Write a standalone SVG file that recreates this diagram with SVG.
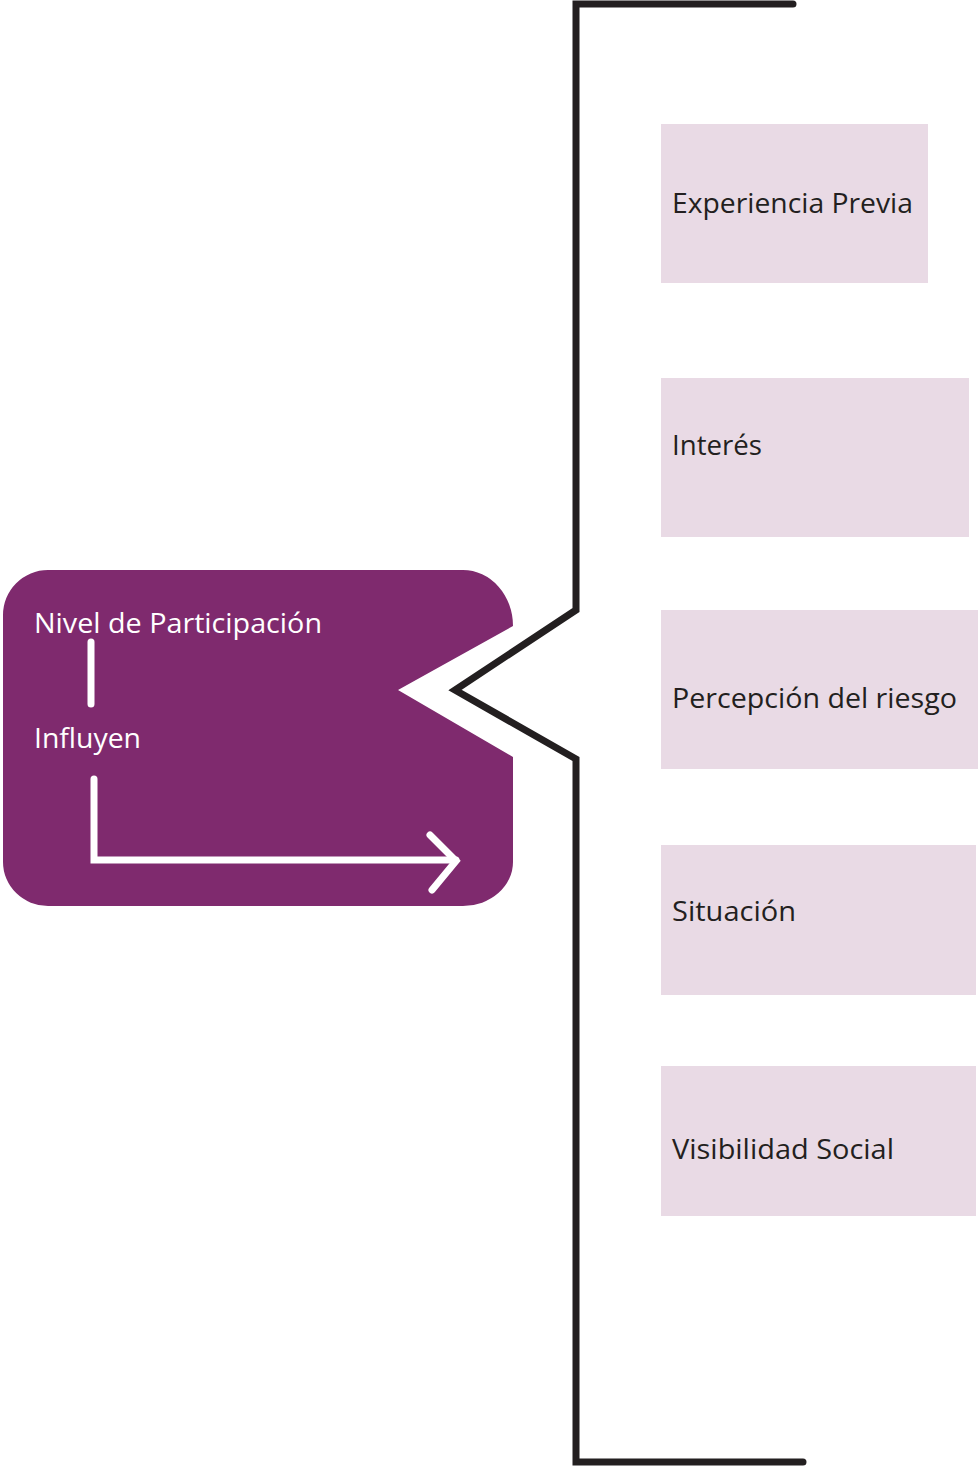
<svg xmlns="http://www.w3.org/2000/svg" width="978" height="1469" viewBox="0 0 978 1469">
<style>
.box{fill:#e9dae5;}
.lbl{font-family:"Open Sans","Liberation Sans",sans-serif;font-size:28px;fill:#231f20;}
.wlbl{font-family:"Open Sans","Liberation Sans",sans-serif;font-size:28px;fill:#ffffff;}
.brk{fill:none;stroke:#231f20;stroke-width:7;stroke-linecap:round;stroke-linejoin:miter;}
.wl{fill:none;stroke:#ffffff;stroke-width:7;stroke-linecap:round;stroke-linejoin:miter;}
</style>
<rect width="978" height="1469" fill="#ffffff"/>
<g id="main">
<path d="M48,570 H463 A50,56 0 0 1 513,626 L398,690 L513,757 V862 A50,44 0 0 1 463,906 H48 A45,44 0 0 1 3,862 V615 A45,45 0 0 1 48,570 Z" fill="#7f2a6e"/>
<text class="wlbl" x="34" y="633" textLength="288" lengthAdjust="spacingAndGlyphs">Nivel de Participación</text>
<line class="wl" x1="91" y1="642" x2="91" y2="704"/>
<text class="wlbl" x="34" y="748" textLength="107" lengthAdjust="spacingAndGlyphs">Influyen</text>
<polyline class="wl" points="94,779 94,860 456,860" stroke-linecap="butt"/>
<polyline class="wl" points="430,835 456,861 432,890"/>
</g>
<g id="connectors">
<path class="brk" d="M793,4 H576 V610 L455,690 L576,759 V1462 H803"/>
</g>
<g id="n1"><rect class="box" x="661" y="124" width="267" height="159"/><text class="lbl" x="672" y="213" textLength="241" lengthAdjust="spacingAndGlyphs">Experiencia Previa</text></g>
<g id="n2"><rect class="box" x="661" y="378" width="308" height="159"/><text class="lbl" x="672" y="455" textLength="90" lengthAdjust="spacingAndGlyphs">Interés</text></g>
<g id="n3"><rect class="box" x="661" y="610" width="317" height="159"/><text class="lbl" x="672" y="708" textLength="285" lengthAdjust="spacingAndGlyphs">Percepción del riesgo</text></g>
<g id="n4"><rect class="box" x="661" y="845" width="315" height="150"/><text class="lbl" x="672" y="921" textLength="124" lengthAdjust="spacingAndGlyphs">Situación</text></g>
<g id="n5"><rect class="box" x="661" y="1066" width="315" height="150"/><text class="lbl" x="672" y="1159" textLength="222" lengthAdjust="spacingAndGlyphs">Visibilidad Social</text></g>
</svg>
